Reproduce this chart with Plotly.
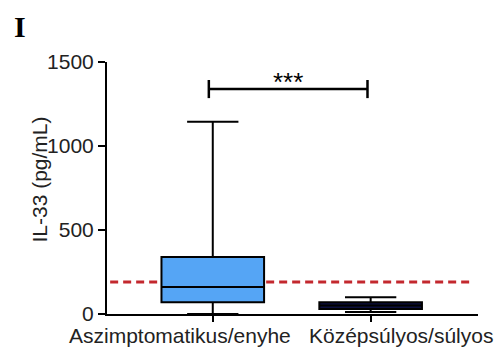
import plotly.graph_objects as go

# ---- data ----
categories = ["Aszimptomatikus/enyhe", "Középsúlyos/súlyos"]
positions = [0, 1]
q1 = [70, 30]
median = [160, 50]
q3 = [340, 70]
lower = [0, 12]
upper = [1145, 100]
fill_colors = ["#55a5f5", "#0b0e3e"]
reference_value = 190        # red dashed threshold line
bracket_value = 1339         # significance bracket level
significance = "***"
y_ticks = [0, 500, 1000, 1500]
y_title = "IL-33 (pg/mL)"
panel_label = "I"

fig = go.Figure()

for i in range(len(categories)):
    fig.add_trace(go.Box(
        x=[positions[i]], q1=[q1[i]], median=[median[i]], q3=[q3[i]],
        lowerfence=[lower[i]], upperfence=[upper[i]],
        width=0.65, whiskerwidth=0.5, boxpoints=False,
        fillcolor=fill_colors[i], line=dict(color="black", width=2),
        showlegend=False, hoverinfo="skip",
    ))

# red dashed reference line (behind boxes)
fig.add_shape(type="line", xref="x", yref="y", x0=-0.65, x1=1.65,
              y0=reference_value, y1=reference_value, layer="below",
              line=dict(color="#c3282e", width=3, dash="8px,5px"))

# significance bracket
bx0, bx1 = positions[0] - 0.025, positions[1] - 0.02
fig.add_shape(type="line", xref="x", yref="y", x0=bx0, x1=bx1,
              y0=bracket_value, y1=bracket_value, line=dict(color="black", width=2.5))
for bx in (bx0, bx1):
    fig.add_shape(type="line", xref="x", yref="y", x0=bx, x1=bx,
                  y0=bracket_value - 54, y1=bracket_value + 54,
                  line=dict(color="black", width=2.5))
fig.add_annotation(x=(bx0 + bx1) / 2, y=bracket_value, xref="x", yref="y",
                   text=significance, showarrow=False, yshift=7,
                   font=dict(family="Liberation Sans", size=26, color="black"))

# category labels (pushed apart as in original)
shifts = [-33, 30]
for i, c in enumerate(categories):
    fig.add_annotation(x=positions[i], y=0, xref="x", yref="y", text=c,
                       showarrow=False, yanchor="middle", yshift=-21, xshift=shifts[i],
                       font=dict(family="Liberation Sans", size=21, color="#222"))

# y title
fig.add_annotation(x=-0.218, y=0.532, xref="paper", yref="paper", text=y_title,
                   textangle=-90, showarrow=False,
                   font=dict(family="Liberation Sans", size=21, color="#222"))

# panel label
fig.add_annotation(x=(12 - 107) / 371, y=(314 - 8) / 252, xref="paper", yref="paper",
                   xanchor="left", yanchor="top", text=f"<b>{panel_label}</b>",
                   showarrow=False, font=dict(family="Liberation Serif", size=30, color="black"))

fig.update_layout(
    width=498, height=349,
    margin=dict(l=107, r=20, t=62, b=35),
    paper_bgcolor="white", plot_bgcolor="white",
    xaxis=dict(range=[-0.67, 1.68], tickvals=positions, ticktext=["", ""],
               ticks="outside", ticklen=6, tickwidth=2, tickcolor="black",
               showline=True, linecolor="black", linewidth=2,
               showgrid=False, zeroline=False, fixedrange=True),
    yaxis=dict(range=[0, 1500], tickvals=y_ticks, ticks="outside", ticklen=7,
               tickwidth=2, tickcolor="black", showline=True, linecolor="black",
               linewidth=2, showgrid=False, zeroline=False,
               tickfont=dict(family="Liberation Sans", size=21, color="#222")),
    showlegend=False,
)

fig.write_html("out.html")
